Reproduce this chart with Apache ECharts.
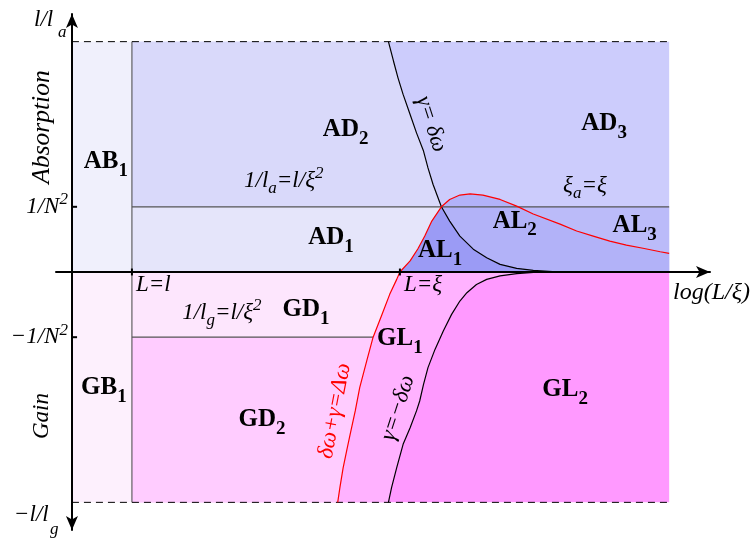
<!DOCTYPE html>
<html style="height: 100%">
<head>
  <meta charset="utf-8" />
  <title>Absorption / gain phase diagram</title>
  <script src="https://cdn.jsdelivr.net/npm/echarts@6.0.0/dist/echarts.min.js"></script>
</head>
<body style="height: 100%; margin: 0">
  <div id="chart" style="width: 750px; height: 541px"></div>
  <script>
    // x: log(L/xi) in arbitrary units, y: l/l_a above 0, -l/l_g below 0
    const xL = 0.94;     // L = l
    const xXi = 5.14;    // L = xi
    const xEnd = 9.36;
    const yN = 0.283;    // 1/N^2
    const yTop = 1;

    // red curve: delta omega + gamma = Delta omega
    const redLower = [[4.165, -1], [4.20, -0.935], [4.25, -0.85], [4.31, -0.77], [4.36, -0.705],
      [4.44, -0.603], [4.51, -0.502], [4.62, -0.386], [4.72, -0.283], [4.85, -0.191],
      [4.98, -0.097], [5.09, -0.032], [5.14, 0]];
    const redUpper = [[5.14, 0], [5.30, 0.048], [5.42, 0.100], [5.53, 0.156], [5.64, 0.221],
      [5.79, 0.283], [5.92, 0.315], [6.08, 0.334], [6.24, 0.339], [6.44, 0.334], [6.71, 0.315],
      [6.97, 0.286], [7.23, 0.252], [7.65, 0.208], [7.91, 0.178], [8.17, 0.156], [8.43, 0.134],
      [8.69, 0.117], [8.95, 0.103], [9.22, 0.088], [9.36, 0.081]];
    // black: gamma = delta omega
    const deltaUpper = [[4.96, 1], [5.04, 0.915], [5.11, 0.843], [5.19, 0.771], [5.30, 0.684],
      [5.40, 0.604], [5.51, 0.525], [5.58, 0.452], [5.66, 0.380], [5.79, 0.283], [5.92, 0.221],
      [6.08, 0.156], [6.29, 0.099], [6.50, 0.062], [6.71, 0.033], [6.97, 0.016], [7.23, 0.007],
      [7.65, 0]];
    // black: gamma = -delta omega
    const deltaLower = [[7.34, 0], [6.97, -0.007], [6.71, -0.017], [6.50, -0.032], [6.34, -0.054],
      [6.19, -0.090], [6.08, -0.126], [5.95, -0.184], [5.82, -0.256], [5.69, -0.336],
      [5.58, -0.415], [5.51, -0.488], [5.45, -0.560], [5.40, -0.603], [5.30, -0.676],
      [5.19, -0.748], [5.09, -0.849], [5.01, -0.935], [4.96, -1]];

    const xTicks = [xL, xXi];
    const xTickLabels = ['{i|L=l}', '{i|L=ξ}'];
    const yTicks = [yN, -yN];
    const yTickLabels = ['{i|1/N}{sp|2}', '{i|−1/N}{sp|2}'];

    const regionMain = ['AB', 'AD', 'AD', 'AD', 'AL', 'AL', 'AL', 'GB', 'GD', 'GD', 'GL', 'GL'];
    const regionSub = ['1', '1', '2', '3', '1', '2', '3', '1', '1', '2', '1', '2'];
    const regionPos = [[0.53, 0.48], [4.06, 0.148], [4.29, 0.62], [8.34, 0.646], [5.77, 0.091],
      [6.94, 0.221], [8.82, 0.2], [0.50, -0.5], [3.67, -0.165], [2.98, -0.64], [5.14, -0.29],
      [7.73, -0.51]];

    const iR = redUpper.findIndex(p => p[1] >= yN);
    const iD = deltaUpper.findIndex(p => p[1] <= yN);
    const iG = redLower.findIndex(p => p[1] >= -yN);

    const polygons = [
      [[xL, 0], [xL, yTop], [xEnd, yTop], [xEnd, 0]],
      [[xL, 0], [xL, yN], [xEnd, yN], [xEnd, 0]],
      [[xL, yN], [xL, yTop]].concat(deltaUpper.slice(0, iD + 1)),
      [[xL, 0], [xL, yN]].concat(redUpper.slice(0, iR + 1).reverse()),
      redUpper.concat([[xEnd, 0]]),
      redUpper.slice(0, iR + 1).concat(deltaUpper.slice(iD + 1)),
      [[0, 0], [0, yTop], [xL, yTop], [xL, 0]],
      [[xL, 0], [xEnd, 0], [xEnd, -yTop], [xL, -yTop]],
      redLower.concat(deltaLower),
      [[xL, -yTop], [xL, -yN]].concat(redLower.slice(0, iG + 1).reverse()),
      [[xL, -yN], [xL, 0]].concat(redLower.slice(iG).reverse()),
      [[0, 0], [xL, 0], [xL, -yTop], [0, -yTop]]
    ];
    const fills = ['#ccccfc', '#bbbbf9', '#d9d9fa', '#e5e5fa', '#b2b2f8', '#9b9bf5', '#f0f0fc',
      '#ff99ff', '#ffb2ff', '#ffccff', '#fde6fd', '#fdf0fd'];

    const serif = 'Liberation Serif';
    const italic = { fontFamily: serif, fontStyle: 'italic', fontSize: 23, color: '#000' };
    const italicRich = {
      i: italic,
      r: Object.assign({}, italic, { color: '#f00' }),
      sb: { fontFamily: serif, fontStyle: 'italic', fontSize: 17, padding: [15, 0, 0, 0], color: '#000' },
      sp: { fontFamily: serif, fontStyle: 'italic', fontSize: 17, padding: [0, 0, 14, 0], color: '#000' }
    };
    const boldRich = {
      b: { fontFamily: serif, fontWeight: 'bold', fontSize: 25, color: '#000' },
      s: { fontFamily: serif, fontWeight: 'bold', fontSize: 19, padding: [19, 0, 0, 0], color: '#000' }
    };

    const curveLabels = [
      { value: [3.32, 0.395], text: '{i|1/l}{sb|a}{i|=l/ξ}{sp|2}', rot: 0 },
      { value: [8.04, 0.373], text: '{i|ξ}{sb|a}{i|=ξ}', rot: 0 },
      { value: [2.35, -0.178], text: '{i|1/l}{sb|g}{i|=l/ξ}{sp|2}', rot: 0 },
      { value: [5.63, 0.642], text: '{i|γ= δω}', rot: -72 },
      { value: [4.12, -0.603], text: '{r|δω+γ=Δω}', rot: 79 },
      { value: [5.11, -0.59], text: '{i|γ=−δω}', rot: 72 }
    ];

    function lineSeries(data, color, width, type) {
      return {
        type: 'line', data: data, showSymbol: false, symbol: 'none', z: 3, silent: true,
        lineStyle: { color: color, width: width, type: type || 'solid' }
      };
    }
    function labelSeries(data, label) {
      return {
        type: 'scatter', symbolSize: 0, z: 5, silent: true, data: data,
        itemStyle: { opacity: 1, color: '#000' },
        label: Object.assign({ show: true, color: '#000', opacity: 1, textBorderWidth: 0, textShadowBlur: 0 }, label)
      };
    }
    const textFont = 'italic 23px "Liberation Serif"';

    const chart = echarts.init(document.getElementById('chart'));
    chart.setOption({
      backgroundColor: '#fff',
      animation: false,
      grid: { left: 56, right: 40, top: 14, bottom: 11, outerBoundsMode: 'none' },
      xAxis: {
        type: 'value', min: -0.25, max: 10, z: 10,
        splitLine: { show: false }, axisTick: { show: false }, axisLabel: { show: false },
        axisLine: { onZero: true, lineStyle: { color: '#000', width: 2 }, symbol: ['none', 'arrow'], symbolSize: [9, 14] },
        name: 'log(L/ξ)', nameLocation: 'end', nameGap: 40,
        nameTextStyle: { fontFamily: serif, fontStyle: 'italic', fontSize: 24, color: '#000', align: 'right', verticalAlign: 'top', padding: [9, 0, 0, 0] }
      },
      yAxis: {
        type: 'value', min: -1.12, max: 1.12, z: 10,
        splitLine: { show: false }, axisTick: { show: false }, axisLabel: { show: false },
        axisLine: { onZero: true, lineStyle: { color: '#000', width: 2 }, symbol: ['arrow', 'arrow'], symbolSize: [9, 14] }
      },
      graphic: [
        { type: 'text', x: 42, y: 127, rotation: Math.PI / 2, style: { text: 'Absorption', font: 'italic 25.5px "Liberation Serif"', fill: '#000', align: 'center', verticalAlign: 'middle' } },
        { type: 'text', x: 42, y: 416, rotation: Math.PI / 2, style: { text: 'Gain', font: textFont, fill: '#000', align: 'center', verticalAlign: 'middle' } },
        { type: 'text', x: 34, y: 8, style: { text: 'l/l', font: textFont, fill: '#000' } },
        { type: 'text', x: 58, y: 24, style: { text: 'a', font: 'italic 17px "Liberation Serif"', fill: '#000' } },
        { type: 'text', x: 14, y: 503, style: { text: '−l/l', font: textFont, fill: '#000' } },
        { type: 'text', x: 50, y: 521, style: { text: 'g', font: 'italic 17px "Liberation Serif"', fill: '#000' } }
      ],
      series: [
        {
          type: 'custom', z: 1, silent: true,
          data: polygons.map(p => p[0]),
          renderItem: function (params, api) {
            return {
              type: 'polygon',
              shape: { points: polygons[params.dataIndex].map(p => api.coord(p)) },
              style: { fill: fills[params.dataIndex] }
            };
          }
        },
        lineSeries([[xL, -yTop], [xL, yTop]], '#444', 1),
        lineSeries([[xL, yN], [xEnd, yN]], '#555', 1.2),
        lineSeries([[xL, -yN], redLower[iG]], '#555', 1.2),
        lineSeries([[0, yTop], [xEnd, yTop]], '#000', 1, [7, 5]),
        lineSeries([[0, -yTop], [xEnd, -yTop]], '#000', 1, [7, 5]),
        lineSeries(deltaUpper, '#000', 1.2),
        lineSeries(deltaLower, '#000', 1.2),
        lineSeries(redLower.concat(redUpper.slice(1)), '#f00', 1.2),
        // tick marks on the axes
        lineSeries([[xTicks[0], -0.015], [xTicks[0], 0.015]], '#000', 2),
        lineSeries([[xTicks[1], -0.015], [xTicks[1], 0.015]], '#000', 2),
        lineSeries([[0, yTicks[0]], [0.08, yTicks[0]]], '#000', 2),
        lineSeries([[0, yTicks[1]], [0.08, yTicks[1]]], '#000', 2),
        labelSeries(xTicks.map((x, i) => ({ value: [x, 0], label: { formatter: xTickLabels[i] } })),
          { position: [4, 1], align: 'left', verticalAlign: 'top', rich: italicRich }),
        labelSeries(yTicks.map((y, i) => ({ value: [0, y], label: { formatter: yTickLabels[i] } })),
          { position: 'left', distance: 4, rich: italicRich }),
        labelSeries(regionPos.map((p, i) => ({
          value: p,
          label: { formatter: '{b|' + regionMain[i] + '}{s|' + regionSub[i] + '}' }
        })), { position: 'inside', rich: boldRich }),
        labelSeries(curveLabels.map(c => ({
          value: c.value,
          label: { formatter: c.text, rotate: c.rot }
        })), { position: 'inside', rich: italicRich })
      ]
    });
  </script>
</body>
</html>
